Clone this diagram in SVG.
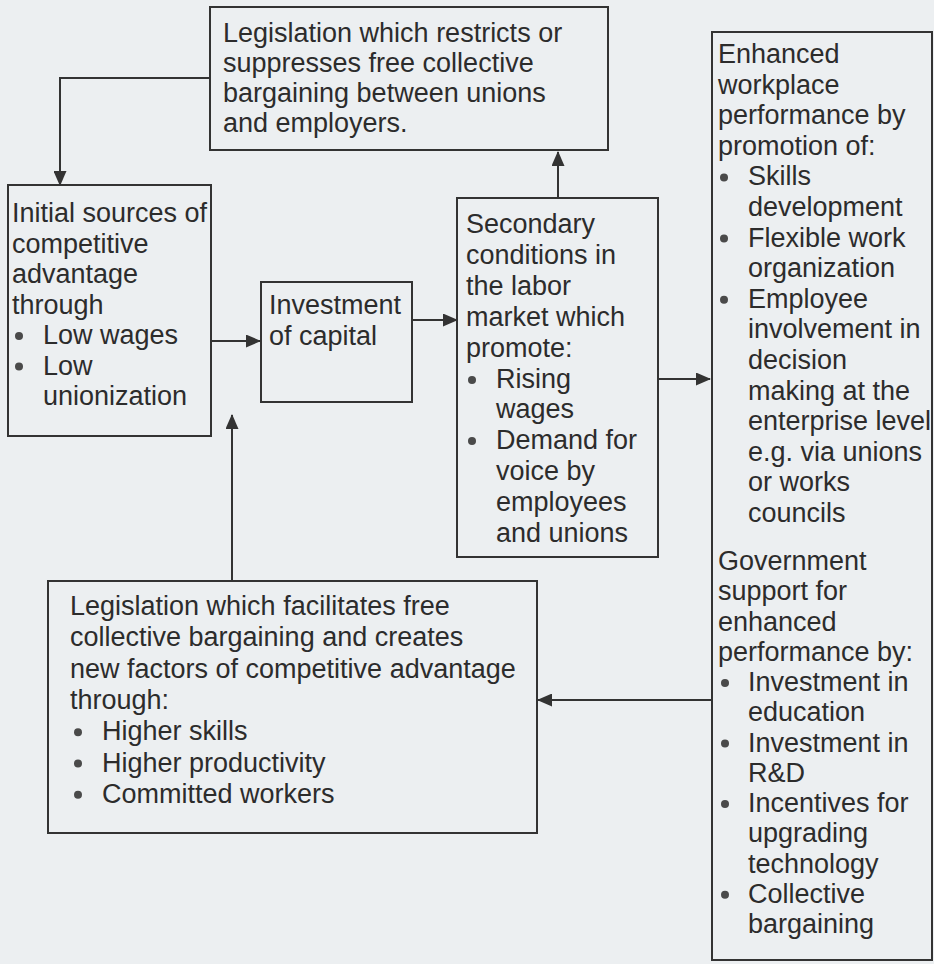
<svg xmlns="http://www.w3.org/2000/svg" width="934" height="964" viewBox="0 0 934 964">
<style>
.bg{fill:#eceff1}
.box{fill:none;stroke:#333;stroke-width:2}
.t{font-family:"Liberation Sans",Arial,sans-serif;font-size:27px;fill:#2c2c2c}
.b{fill:#4a4a4a}
.c{fill:none;stroke:#333;stroke-width:2}
</style>
<defs>
<marker id="ah" markerUnits="userSpaceOnUse" markerWidth="15" markerHeight="13" refX="14" refY="6.5" orient="auto">
<path d="M0,0 L15,6.5 L0,13 z" fill="#333"/>
</marker>
</defs>
<rect class="bg" x="0" y="0" width="934" height="964"/>

<g id="restrict">
<rect class="box" x="210" y="7" width="398" height="143"/>
<text class="t" x="223" y="42">Legislation which restricts or</text>
<text class="t" x="223" y="72">suppresses free collective</text>
<text class="t" x="223" y="102">bargaining between unions</text>
<text class="t" x="223" y="132">and employers.</text>
</g>

<g id="initial">
<rect class="box" x="8" y="185" width="203" height="251"/>
<text class="t" x="12" y="222">Initial sources of</text>
<text class="t" x="12" y="252.5">competitive</text>
<text class="t" x="12" y="283">advantage</text>
<text class="t" x="12" y="313.5">through</text>
<circle class="b" cx="19" cy="336" r="4"/>
<text class="t" x="43" y="344">Low wages</text>
<circle class="b" cx="19" cy="366.5" r="4"/>
<text class="t" x="43" y="374.5">Low</text>
<text class="t" x="43" y="405">unionization</text>
</g>

<g id="investment">
<rect class="box" x="261" y="282" width="151" height="120"/>
<text class="t" x="269" y="314">Investment</text>
<text class="t" x="269" y="345">of capital</text>
</g>

<g id="secondary">
<rect class="box" x="457" y="198" width="201" height="359"/>
<text class="t" x="466" y="233">Secondary</text>
<text class="t" x="466" y="264">conditions in</text>
<text class="t" x="466" y="295">the labor</text>
<text class="t" x="466" y="326">market which</text>
<text class="t" x="466" y="357">promote:</text>
<circle class="b" cx="472" cy="380" r="4"/>
<text class="t" x="496" y="388">Rising</text>
<text class="t" x="496" y="418">wages</text>
<circle class="b" cx="472" cy="441" r="4"/>
<text class="t" x="496" y="449">Demand for</text>
<text class="t" x="496" y="480">voice by</text>
<text class="t" x="496" y="511">employees</text>
<text class="t" x="496" y="542">and unions</text>
</g>

<g id="enhanced">
<rect class="box" x="712" y="32" width="220" height="928"/>
<text class="t" x="718" y="63">Enhanced</text>
<text class="t" x="718" y="93.6">workplace</text>
<text class="t" x="718" y="124.2">performance by</text>
<text class="t" x="718" y="154.8">promotion of:</text>
<circle class="b" cx="724" cy="177.4" r="4"/>
<text class="t" x="748" y="185.4">Skills</text>
<text class="t" x="748" y="216">development</text>
<circle class="b" cx="724" cy="238.6" r="4"/>
<text class="t" x="748" y="246.6">Flexible work</text>
<text class="t" x="748" y="277.2">organization</text>
<circle class="b" cx="724" cy="299.8" r="4"/>
<text class="t" x="748" y="307.8">Employee</text>
<text class="t" x="748" y="338.4">involvement in</text>
<text class="t" x="748" y="369">decision</text>
<text class="t" x="748" y="399.6">making at the</text>
<text class="t" x="748" y="430.2">enterprise level</text>
<text class="t" x="748" y="460.8">e.g. via unions</text>
<text class="t" x="748" y="491.4">or works</text>
<text class="t" x="748" y="522">councils</text>
</g>

<g id="government">
<text class="t" x="718" y="570">Government</text>
<text class="t" x="718" y="600.25">support for</text>
<text class="t" x="718" y="630.5">enhanced</text>
<text class="t" x="718" y="660.75">performance by:</text>
<circle class="b" cx="725" cy="683" r="4"/>
<text class="t" x="748" y="691">Investment in</text>
<text class="t" x="748" y="721.25">education</text>
<circle class="b" cx="725" cy="743.5" r="4"/>
<text class="t" x="748" y="751.5">Investment in</text>
<text class="t" x="748" y="781.75">R&amp;D</text>
<circle class="b" cx="725" cy="804" r="4"/>
<text class="t" x="748" y="812">Incentives for</text>
<text class="t" x="748" y="842.25">upgrading</text>
<text class="t" x="748" y="872.5">technology</text>
<circle class="b" cx="725" cy="894.75" r="4"/>
<text class="t" x="748" y="902.75">Collective</text>
<text class="t" x="748" y="933">bargaining</text>
</g>

<g id="facilitate">
<rect class="box" x="48" y="581" width="489" height="252"/>
<text class="t" x="70" y="615">Legislation which facilitates free</text>
<text class="t" x="70" y="646.3">collective bargaining and creates</text>
<text class="t" x="70" y="677.6">new factors of competitive advantage</text>
<text class="t" x="70" y="708.9">through:</text>
<circle class="b" cx="78" cy="732.2" r="4"/>
<text class="t" x="102" y="740.2">Higher skills</text>
<circle class="b" cx="78" cy="763.5" r="4"/>
<text class="t" x="102" y="771.5">Higher productivity</text>
<circle class="b" cx="78" cy="794.8" r="4"/>
<text class="t" x="102" y="802.8">Committed workers</text>
</g>

<g id="connectors">
<polyline class="c" points="210,78 60,78 60,185" marker-end="url(#ah)"/>
<line class="c" x1="211" y1="341" x2="260" y2="341" marker-end="url(#ah)"/>
<line class="c" x1="412" y1="320" x2="457" y2="320" marker-end="url(#ah)"/>
<line class="c" x1="558" y1="198" x2="558" y2="152" marker-end="url(#ah)"/>
<line class="c" x1="658" y1="379" x2="710" y2="379" marker-end="url(#ah)"/>
<line class="c" x1="232" y1="581" x2="232" y2="415" marker-end="url(#ah)"/>
<line class="c" x1="712" y1="700" x2="538" y2="700" marker-end="url(#ah)"/>
</g>
</svg>
